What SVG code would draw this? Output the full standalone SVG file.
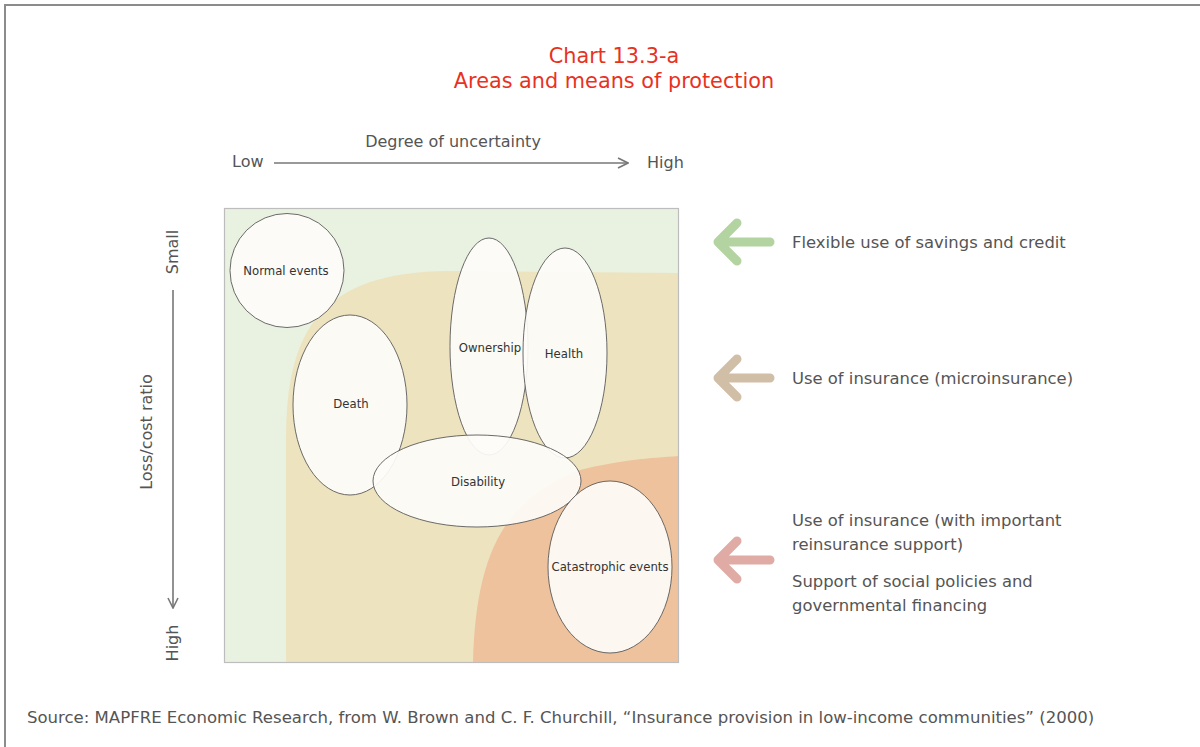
<svg xmlns="http://www.w3.org/2000/svg" width="1200" height="747" viewBox="0 0 1200 747">
<defs>
<style>
.t{font-family:"DejaVu Sans","Liberation Sans",Arial,sans-serif;fill:#555}
.title{font-family:"DejaVu Sans","Liberation Sans",Arial,sans-serif;fill:#e8321e;font-size:20.8px;text-anchor:middle}
.ax{font-size:16px}
.lab{font-size:11.7px;fill:#333;text-anchor:middle}
.side{font-size:16.4px}
.node{fill:#fdfcf9;fill-opacity:0.92;stroke:#5a5a5a;stroke-width:0.9}
.axis{stroke:#777;stroke-width:1.6;fill:none}
.big{fill:none;stroke-width:9;stroke-linecap:round;stroke-linejoin:round}
</style>
<marker id="ah" viewBox="0 0 12 12" refX="11" refY="6" markerWidth="12" markerHeight="12" markerUnits="userSpaceOnUse" orient="auto">
<path d="M1 1 L11 6 L1 11" fill="none" stroke="#777" stroke-width="1.6"/>
</marker>
</defs>
<rect width="1200" height="747" fill="#fff"/>
<path d="M5 747 L5 5 L1200 5" fill="none" stroke="#8c8c8c" stroke-width="2"/>
<text class="title" x="614" y="63">Chart 13.3-a</text>
<text class="title" x="614" y="88">Areas and means of protection</text>

<g id="axes">
<text class="t ax" x="453" y="147" text-anchor="middle">Degree of uncertainty</text>
<text class="t ax" x="232" y="167">Low</text>
<text class="t ax" x="647" y="168">High</text>
<text class="t ax" transform="translate(178 252) rotate(-90)" text-anchor="middle">Small</text>
<text class="t ax" transform="translate(178 643) rotate(-90)" text-anchor="middle">High</text>
<text class="t ax" transform="translate(152 432) rotate(-90)" text-anchor="middle">Loss/cost ratio</text>
</g>

<g id="connectors">
<line class="axis" x1="274" y1="163" x2="628" y2="163" marker-end="url(#ah)"/>
<line class="axis" x1="173" y1="290" x2="173" y2="608" marker-end="url(#ah)"/>
<path class="big" stroke="#b3d4a1" d="M770 242 L718 242 M737 223 L718 242 L737 261"/>
<path class="big" stroke="#d1bea7" d="M770 378 L718 378 M737 359 L718 378 L737 397"/>
<path class="big" stroke="#e0aba4" d="M770 560 L718 560 M737 541 L718 560 L737 579"/>
</g>

<g id="chart">
<rect x="224.5" y="208.5" width="454" height="454" fill="#e9f1e1"/>
<path d="M286 662.5 L286 440 C286 330 320 272 450 271 L678.5 273 L678.5 662.5 Z" fill="#ede3bf"/>
<path d="M473 662.5 C476 560 500 500 580 470 C620 460 650 458 678.5 456 L678.5 662.5 Z" fill="#eec29c"/>
<rect x="224.5" y="208.5" width="454" height="454" fill="none" stroke="#bdbdbd" stroke-width="1.2"/>
</g>

<g id="normal-events">
<circle class="node" cx="287" cy="270.5" r="57"/>
<text class="t lab" x="286" y="275">Normal events</text>
</g>
<g id="death">
<ellipse class="node" cx="350" cy="405" rx="57" ry="90"/>
<text class="t lab" x="351" y="408">Death</text>
</g>
<g id="ownership">
<ellipse class="node" cx="489" cy="346.5" rx="39" ry="108.5"/>
<text class="t lab" x="490" y="352">Ownership</text>
</g>
<g id="health">
<ellipse class="node" cx="565" cy="353" rx="42" ry="105"/>
<text class="t lab" x="564" y="358">Health</text>
</g>
<g id="disability">
<ellipse class="node" cx="477" cy="481" rx="104" ry="46"/>
<text class="t lab" x="478" y="486">Disability</text>
</g>
<g id="catastrophic-events">
<ellipse class="node" cx="610" cy="567" rx="62" ry="86"/>
<text class="t lab" x="610" y="571">Catastrophic events</text>
</g>

<g id="legend">
<text class="t side" x="792" y="248">Flexible use of savings and credit</text>
<text class="t side" x="792" y="384">Use of insurance (microinsurance)</text>
<text class="t side" x="792" y="526">Use of insurance (with important</text>
<text class="t side" x="792" y="550">reinsurance support)</text>
<text class="t side" x="792" y="587">Support of social policies and</text>
<text class="t side" x="792" y="611">governmental financing</text>
</g>

<text class="t" x="27" y="723" font-size="16.55">Source: MAPFRE Economic Research, from W. Brown and C. F. Churchill, “Insurance provision in low-income communities” (2000)</text>
</svg>
